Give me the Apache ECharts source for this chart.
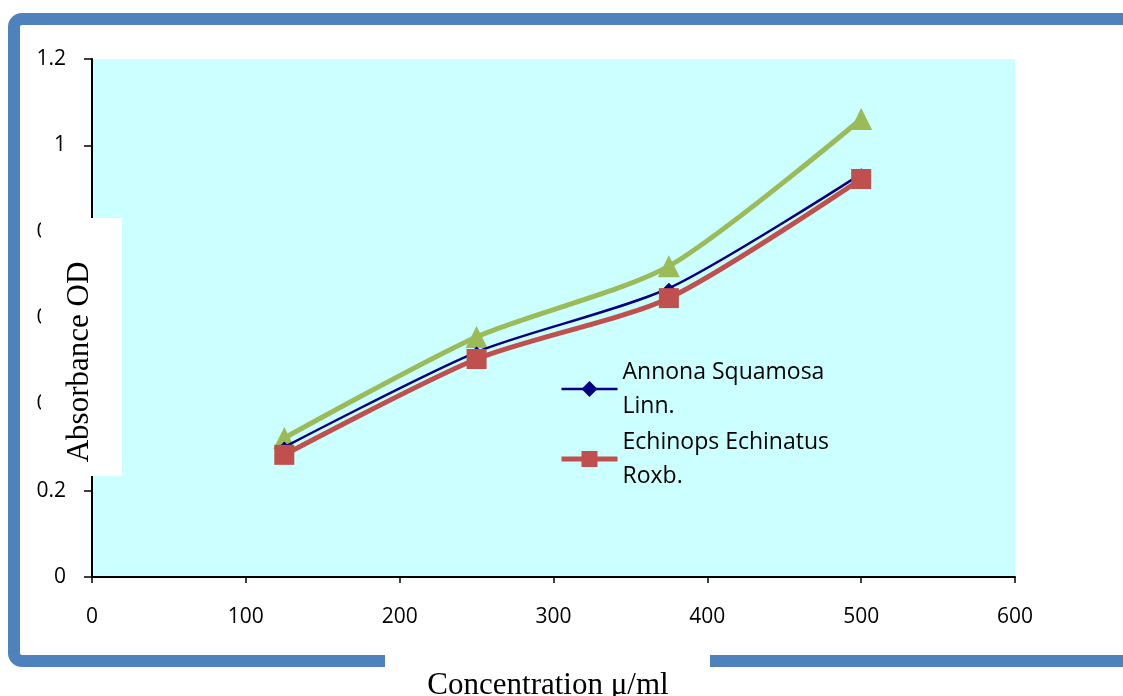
<!DOCTYPE html>
<html>
<head>
<meta charset="utf-8">
<script src="https://cdn.jsdelivr.net/npm/echarts@6/dist/echarts.min.js"></script>
<style>
html,body{margin:0;padding:0;background:#fff;}
#chart{width:1123px;height:696px;}
</style>
</head>
<body>
<div id="chart"></div>
<script>
const concentrations = [125, 250, 375, 500];
const annona = [0.301, 0.521, 0.669, 0.934];
const echinops = [0.283, 0.505, 0.646, 0.922];
const third = [0.322, 0.556, 0.720, 1.061];
const legendNames = ['Annona Squamosa Linn.', 'Echinops Echinatus Roxb.'];

function pairs(ys){ return concentrations.map(function(x,i){ return [x, ys[i]]; }); }

const chart = echarts.init(document.getElementById('chart'));
chart.setOption({
    backgroundColor: '#ffffff',
    animation: false,
    grid: {left: 92, right: 108, top: 59, bottom: 119, show: true, backgroundColor: '#CCFFFF', borderWidth: 0},
    xAxis: {
        type: 'value', min: 0, max: 600, interval: 100,
        axisLine: {onZero: false, lineStyle: {color: '#000', width: 2}},
        axisTick: {show: true, length: 6, lineStyle: {color: '#000', width: 1.5}},
        axisLabel: {color: '#000', fontSize: 21, fontFamily: 'Open Sans', margin: 30},
        splitLine: {show: false}
    },
    yAxis: {
        type: 'value', min: 0, max: 1.2, interval: 0.2,
        axisLine: {show: true, lineStyle: {color: '#000', width: 2}},
        axisTick: {show: true, length: 8, lineStyle: {color: '#000', width: 1.5}},
        axisLabel: {color: '#000', fontSize: 21, fontFamily: 'Open Sans', margin: 26},
        splitLine: {show: false}
    },
    legend: {
        data: [
            {name: legendNames[0], lineStyle: {width: 2.5}},
            {name: legendNames[1], lineStyle: {width: 5}}
        ],
        orient: 'vertical', left: 554, top: 350, itemGap: 2,
        itemWidth: 56, itemHeight: 20,
        textStyle: {fontSize: 23, fontFamily: 'Open Sans', color: '#000', lineHeight: 34},
        formatter: function(name){ return name.replace(/ (\S+)$/, '\n$1'); }
    },
    series: [
        {
            name: 'third', type: 'line', data: pairs(third), smooth: 0.25,
            symbol: 'triangle', symbolSize: 22,
            lineStyle: {color: '#9BBB59', width: 5},
            itemStyle: {color: '#9BBB59'}, z: 2
        },
        {
            name: legendNames[0], type: 'line', data: pairs(annona), smooth: 0.25,
            symbol: 'diamond', symbolSize: 11,
            lineStyle: {color: '#000080', width: 2.5},
            itemStyle: {color: '#000080'}, z: 3
        },
        {
            name: legendNames[1], type: 'line', data: pairs(echinops), smooth: 0.25,
            symbol: 'rect', symbolSize: 20,
            lineStyle: {color: '#C0504D', width: 5},
            itemStyle: {color: '#C0504D'}, z: 4
        }
    ],
    graphic: [
        {type: 'rect', z: 100, shape: {x: 14, y: 19, width: 1140, height: 642, r: 8},
            style: {fill: 'none', stroke: '#4F81BD', lineWidth: 12}},
        {type: 'rect', z: 101, shape: {x: 41, y: 218, width: 81, height: 258},
            style: {fill: '#ffffff'}},
        {type: 'text', z: 102, x: 80, y: 362, rotation: Math.PI / 2,
            style: {text: 'Absorbance OD', font: '31px "Liberation Serif"', fill: '#000', align: 'center', verticalAlign: 'middle'}},
        {type: 'rect', z: 101, shape: {x: 385, y: 648, width: 325, height: 48},
            style: {fill: '#ffffff'}},
        {type: 'text', z: 102, x: 548, y: 686,
            style: {text: 'Concentration \u03bc/ml', font: '31px "Liberation Serif"', fill: '#000', align: 'center', verticalAlign: 'middle'}}
    ]
});
</script>
</body>
</html>
